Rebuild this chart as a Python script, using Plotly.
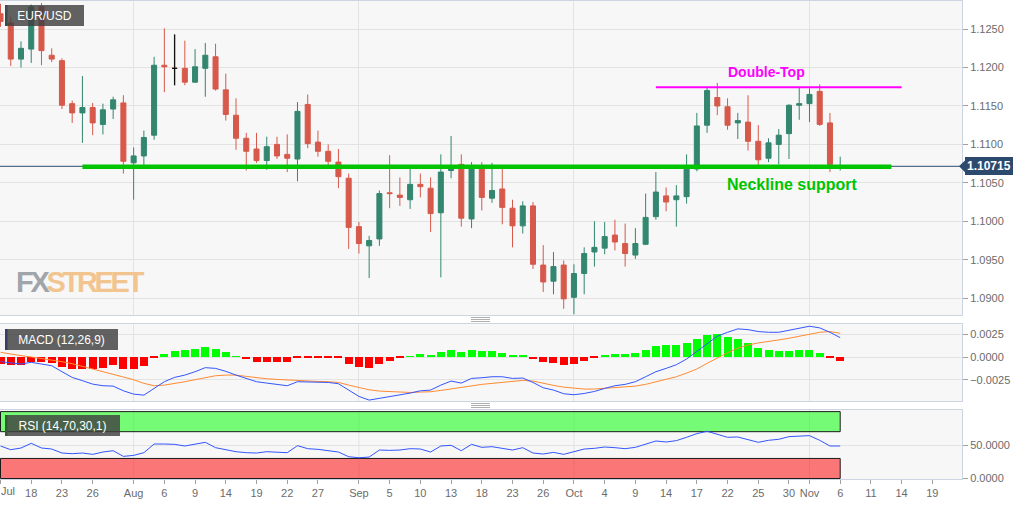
import pandas as pd
import plotly.graph_objects as go
from plotly.subplots import make_subplots

# ---- data (EUR/USD daily, 2019) ----
start_date = "2019-07-15"
last_date = "2019-11-06"
axis_end_date = "2019-11-29"

open_ = [1.1270, 1.1258, 1.1211, 1.1224, 1.1279, 1.1216, 1.1209, 1.1153, 1.1141, 1.1148,
         1.1126, 1.1146, 1.1154, 1.1076, 1.1085, 1.1112, 1.1203, 1.1199, 1.1199, 1.1181,
         1.1199, 1.1214, 1.1171, 1.1138, 1.1108, 1.1094, 1.1079, 1.1100, 1.1087, 1.1081,
         1.1152, 1.1103, 1.1091, 1.1077, 1.1056, 1.0993, 1.0968, 1.0977, 1.1037, 1.1034,
         1.1028, 1.1048, 1.1043, 1.1011, 1.1066, 1.1074, 1.1003, 1.1072, 1.1030, 1.1042,
         1.1017, 1.0994, 1.1020, 1.0943, 1.0922, 1.0943, 1.0901, 1.0932, 1.0960, 1.0965,
         1.0982, 1.0971, 1.0956, 1.0970, 1.1006, 1.1033, 1.1028, 1.1032, 1.1068, 1.1125,
         1.1161, 1.1149, 1.1128, 1.1129, 1.1104, 1.1082, 1.1100, 1.1114, 1.1151, 1.1153,
         1.1169, 1.1128, 1.1069]
high = [1.1283, 1.1266, 1.1234, 1.1282, 1.1284, 1.1225, 1.1212, 1.1157, 1.1189, 1.1154,
        1.1153, 1.1162, 1.1164, 1.1096, 1.1118, 1.1214, 1.1251, 1.1243, 1.1235, 1.1224,
        1.1232, 1.1231, 1.1192, 1.1160, 1.1115, 1.1115, 1.1110, 1.1110, 1.1113, 1.1155,
        1.1165, 1.1118, 1.1100, 1.1094, 1.1062, 1.0999, 1.0981, 1.1040, 1.1086, 1.1057,
        1.1069, 1.1062, 1.1057, 1.1087, 1.1111, 1.1087, 1.1077, 1.1077, 1.1076, 1.1071,
        1.1028, 1.1026, 1.1025, 1.0969, 1.0960, 1.0949, 1.0944, 1.0966, 1.1000, 1.0999,
        1.1002, 1.0997, 1.0991, 1.1036, 1.1064, 1.1044, 1.1047, 1.1087, 1.1141, 1.1175,
        1.1180, 1.1160, 1.1141, 1.1164, 1.1125, 1.1108, 1.1120, 1.1152, 1.1175, 1.1173,
        1.1178, 1.1141, 1.1084]
low = [1.1253, 1.1202, 1.1200, 1.1206, 1.1203, 1.1207, 1.1146, 1.1128, 1.1102, 1.1112,
       1.1113, 1.1133, 1.1062, 1.1028, 1.1073, 1.1106, 1.1168, 1.1177, 1.1177, 1.1180,
       1.1162, 1.1170, 1.1131, 1.1093, 1.1066, 1.1076, 1.1067, 1.1081, 1.1064, 1.1052,
       1.1095, 1.1084, 1.1073, 1.1043, 1.0964, 1.0958, 1.0926, 1.0968, 1.1017, 1.1020,
       1.1016, 1.1031, 1.0986, 1.0927, 1.1056, 1.0993, 1.0991, 1.1014, 1.1024, 1.0996,
       1.0966, 1.0984, 1.0938, 1.0908, 1.0905, 1.0886, 1.0879, 1.0905, 1.0941, 1.0957,
       1.0962, 1.0941, 1.0951, 1.0969, 1.1002, 1.1013, 1.0993, 1.1023, 1.1065, 1.1115,
       1.1138, 1.1119, 1.1107, 1.1092, 1.1073, 1.1077, 1.1074, 1.1081, 1.1132, 1.1129,
       1.1124, 1.1064, 1.1066]
close = [1.1260, 1.1211, 1.1225, 1.1279, 1.1222, 1.1211, 1.1151, 1.1141, 1.1148, 1.1128,
         1.1145, 1.1158, 1.1078, 1.1085, 1.1109, 1.1203, 1.1201, 1.1199, 1.1181, 1.1201,
         1.1216, 1.1172, 1.1139, 1.1108, 1.1091, 1.1079, 1.1097, 1.1085, 1.1082, 1.1143,
         1.1101, 1.1091, 1.1078, 1.1058, 1.0992, 1.0971, 1.0975, 1.1036, 1.1036, 1.1031,
         1.1048, 1.1045, 1.1010, 1.1064, 1.1069, 1.1004, 1.1072, 1.1031, 1.1040, 1.1018,
         1.0994, 1.1020, 1.0944, 1.0921, 1.0941, 1.0899, 1.0932, 1.0958, 1.0966, 1.0980,
         1.0973, 1.0958, 1.0971, 1.1005, 1.1038, 1.1025, 1.1033, 1.1069, 1.1124, 1.1170,
         1.1150, 1.1125, 1.1131, 1.1104, 1.1080, 1.1102, 1.1112, 1.1151, 1.1153, 1.1165,
         1.1126, 1.1074, 1.10715]
black_doji = ["2019-08-07"]

macd = [-0.00051, -0.00066, -0.00076, -0.00058, -0.00073, -0.00095, -0.00160, -0.00222, -0.00258, -0.00295,
        -0.00313, -0.00317, -0.00368, -0.00404, -0.00415, -0.00342, -0.00269, -0.00222, -0.00197, -0.00160,
        -0.00116, -0.00124, -0.00156, -0.00197, -0.00233, -0.00269, -0.00284, -0.00298, -0.00313, -0.00269,
        -0.00269, -0.00273, -0.00277, -0.00291, -0.00360, -0.00429, -0.00469, -0.00451, -0.00429, -0.00411,
        -0.00393, -0.00368, -0.00360, -0.00306, -0.00262, -0.00284, -0.00233, -0.00226, -0.00215, -0.00215,
        -0.00233, -0.00229, -0.00277, -0.00335, -0.00360, -0.00400, -0.00411, -0.00397, -0.00375, -0.00342,
        -0.00313, -0.00298, -0.00269, -0.00215, -0.00160, -0.00124, -0.00084, -0.00022, 0.00058, 0.00142,
        0.00226, 0.00269, 0.00306, 0.00298, 0.00277, 0.00269, 0.00269, 0.00291, 0.00313, 0.00335,
        0.00317, 0.00269, 0.00211]
signal = [0.00051, 0.00029, 0.00015, 0.00000, -0.00015, -0.00033, -0.00051, -0.00073, -0.00102, -0.00138,
          -0.00167, -0.00197, -0.00218, -0.00247, -0.00287, -0.00313, -0.00306, -0.00291, -0.00269, -0.00247,
          -0.00226, -0.00204, -0.00197, -0.00197, -0.00211, -0.00226, -0.00237, -0.00244, -0.00251, -0.00258,
          -0.00262, -0.00266, -0.00269, -0.00277, -0.00306, -0.00335, -0.00357, -0.00371, -0.00378, -0.00386,
          -0.00386, -0.00382, -0.00378, -0.00364, -0.00346, -0.00335, -0.00317, -0.00298, -0.00287, -0.00277,
          -0.00266, -0.00255, -0.00262, -0.00287, -0.00309, -0.00328, -0.00342, -0.00349, -0.00349, -0.00342,
          -0.00335, -0.00331, -0.00317, -0.00298, -0.00269, -0.00247, -0.00215, -0.00175, -0.00131, -0.00069,
          -0.00007, 0.00047, 0.00095, 0.00131, 0.00153, 0.00167, 0.00186, 0.00204, 0.00226, 0.00247,
          0.00269, 0.00277, 0.00258]
hist = [-0.00076, -0.00095, -0.00095, -0.00058, -0.00058, -0.00066, -0.00113, -0.00131, -0.00138, -0.00138,
        -0.00124, -0.00095, -0.00131, -0.00131, -0.00102, -0.00018, 0.00029, 0.00066, 0.00073, 0.00087,
        0.00102, 0.00080, 0.00047, 0.00007, -0.00029, -0.00055, -0.00055, -0.00055, -0.00055, -0.00007,
        -0.00007, -0.00007, -0.00007, -0.00015, -0.00076, -0.00113, -0.00120, -0.00080, -0.00044, -0.00018,
        0.00004, 0.00025, 0.00015, 0.00047, 0.00073, 0.00047, 0.00073, 0.00062, 0.00062, 0.00044,
        0.00018, 0.00022, -0.00022, -0.00062, -0.00066, -0.00095, -0.00080, -0.00044, -0.00015, 0.00015,
        0.00029, 0.00033, 0.00044, 0.00073, 0.00113, 0.00124, 0.00131, 0.00153, 0.00197, 0.00240,
        0.00247, 0.00218, 0.00197, 0.00146, 0.00098, 0.00073, 0.00058, 0.00066, 0.00069, 0.00073,
        0.00044, -0.00011, -0.00051]
rsi = [48.6, 43.1, 45.6, 52.6, 45.6, 44.1, 38.1, 37.1, 38.1, 36.1,
       39.6, 41.6, 33.1, 34.6, 38.6, 51.6, 51.6, 51.1, 48.6, 51.6,
       54.1, 46.1, 42.6, 40.1, 38.6, 38.1, 40.1, 39.1, 38.6, 49.1,
       44.6, 43.6, 42.1, 39.6, 32.6, 31.1, 32.1, 42.6, 42.1, 42.6,
       44.6, 44.1, 39.6, 48.6, 49.6, 41.6, 51.1, 46.6, 47.6, 45.6,
       42.6, 46.1, 38.1, 36.6, 39.1, 36.1, 40.6, 44.1, 45.1, 47.1,
       46.1, 44.6, 46.6, 51.6, 56.1, 54.6, 56.6, 61.6, 67.1, 70.6,
       65.6, 61.6, 62.1, 58.1, 54.1, 57.1, 58.6, 62.6, 63.1, 64.1,
       57.1, 48.6, 48.6]

tick_dates = ["2019-07-15", "2019-07-18", "2019-07-23", "2019-07-26", "2019-08-01", "2019-08-06",
              "2019-08-09", "2019-08-14", "2019-08-19", "2019-08-22", "2019-08-27", "2019-09-02",
              "2019-09-05", "2019-09-10", "2019-09-13", "2019-09-18", "2019-09-23", "2019-09-26",
              "2019-10-01", "2019-10-04", "2019-10-09", "2019-10-14", "2019-10-17", "2019-10-22",
              "2019-10-25", "2019-10-30", "2019-11-01", "2019-11-06", "2019-11-11", "2019-11-14",
              "2019-11-19"]
tick_text = ["Jul", "18", "23", "26", "Aug", "6", "9", "14", "19", "22", "27", "Sep", "5", "10", "13",
             "18", "23", "26", "Oct", "4", "9", "14", "17", "22", "25", "30", "Nov", "6", "11", "14", "19"]
month_starts = ["2019-08-01", "2019-09-02", "2019-10-01", "2019-11-01"]

price_ticks = [1.0900, 1.0950, 1.1000, 1.1050, 1.1100, 1.1150, 1.1200, 1.1250]
macd_ticks = [-0.0025, 0.0, 0.0025]
rsi_ticks = [0, 50]
rsi_upper, rsi_lower = 70, 30

neck_level, neck_from, neck_to = 1.1071, "2019-07-25", "2019-11-13"
top_level, top_from, top_to = 1.11745, "2019-10-11", "2019-11-14"

# ---- styling ----
W, H = 1032, 505
ML, MR, MT, MB = 0, 70, 1, 26
PW, PH = W - ML - MR, H - MT - MB
GREEN = "#33866f"
RED = "#d6594b"
GRID = "#e3e3e3"
BORDER = "#cdd4e1"
TICKC = "#6b6b6b"
FONT = "Liberation Sans, Arial, sans-serif"


def fy(py):
    # pixel row (from top of page) -> paper fraction
    return (H - MB - py) / PH


def fx(px):
    return (px - ML) / PW


cal = pd.bdate_range(start_date, axis_end_date)


def ix(d):
    return cal.get_loc(pd.Timestamp(d))


dates = pd.bdate_range(start_date, last_date)
x = [ix(d) for d in dates]

fig = make_subplots(rows=3, cols=1, shared_xaxes=True)

fig.add_trace(go.Candlestick(
    x=x, open=open_, high=high, low=low, close=close,
    increasing=dict(line=dict(color=GREEN, width=1), fillcolor=GREEN),
    decreasing=dict(line=dict(color=RED, width=1), fillcolor=RED),
    whiskerwidth=0, name="EUR/USD", showlegend=False), row=1, col=1)

bi = [dates.get_loc(pd.Timestamp(d)) for d in black_doji]
fig.add_trace(go.Candlestick(
    x=[x[i] for i in bi], open=[open_[i] for i in bi], high=[high[i] for i in bi],
    low=[low[i] for i in bi], close=[close[i] for i in bi],
    increasing=dict(line=dict(color="#111111", width=1.3), fillcolor="#111111"),
    decreasing=dict(line=dict(color="#111111", width=1.3), fillcolor="#111111"),
    whiskerwidth=0, showlegend=False), row=1, col=1)

fig.add_trace(go.Bar(x=x, y=hist, width=0.78,
                     marker=dict(color=["#00ff00" if v >= 0 else "#ff0000" for v in hist],
                                 line=dict(width=0)),
                     showlegend=False), row=2, col=1)
fig.add_trace(go.Scatter(x=x, y=signal, mode="lines", line=dict(color="#ff8a33", width=1),
                         showlegend=False), row=2, col=1)
fig.add_trace(go.Scatter(x=x, y=macd, mode="lines", line=dict(color="#3355ff", width=1),
                         showlegend=False), row=2, col=1)
fig.add_trace(go.Scatter(x=x, y=rsi, mode="lines", line=dict(color="#3355ff", width=1),
                         showlegend=False), row=3, col=1)

# RSI zones and month gridlines in the RSI pane
fig.add_shape(type="rect", xref="x3", yref="y3", x0=x[0], x1=x[-1], y0=rsi_upper, y1=100,
              fillcolor="rgba(0,255,0,0.52)", line=dict(color="#1b1b1b", width=1), layer="below")
fig.add_shape(type="rect", xref="x3", yref="y3", x0=x[0], x1=x[-1], y0=0, y1=rsi_lower,
              fillcolor="rgba(255,0,0,0.52)", line=dict(color="#1b1b1b", width=1), layer="below")
for d in month_starts:
    fig.add_shape(type="line", xref="x3", yref="y3 domain", x0=ix(d), x1=ix(d), y0=0, y1=1,
                  line=dict(color=GRID, width=1), layer="below")

# last price line and drawn levels
fig.add_shape(type="line", xref="x domain", yref="y", x0=0, x1=1, y0=close[-1], y1=close[-1],
              line=dict(color="#2b4a6e", width=1))
fig.add_shape(type="line", xref="x", yref="y", x0=ix(neck_from), x1=ix(neck_to),
              y0=neck_level, y1=neck_level, line=dict(color="#00c400", width=4.5))
fig.add_shape(type="line", xref="x", yref="y", x0=ix(top_from), x1=ix(top_to),
              y0=top_level, y1=top_level, line=dict(color="#ff00ff", width=2))

# price tag pointer
fig.add_shape(type="path", xref="paper", yref="y",
              path=f"M {fx(959)},{close[-1]} L {fx(966)},{close[-1] + 0.0009} "
                   f"L {fx(966)},{close[-1] - 0.0009} Z",
              fillcolor="#2b4a6e", line=dict(width=0))

# pane labels with coloured markers
labels = [("EUR/USD", 5, 79, GREEN), ("MACD (12,26,9)", 329, 113, "#1f3fff"),
          ("RSI (14,70,30,1)", 415, 115, "#00dd00")]
for txt, top, wid, mcol in labels:
    fig.add_annotation(xref="paper", yref="paper", x=fx(5), y=fy(top), xanchor="left", yanchor="top",
                       text=txt, showarrow=False, width=wid, height=21, borderpad=0, borderwidth=0,
                       bgcolor="rgba(64,64,64,0.82)", font=dict(color="white", size=12, family=FONT))
    fig.add_shape(type="rect", xref="paper", yref="paper", x0=fx(5), x1=fx(7.5),
                  y0=fy(top + 21), y1=fy(top), fillcolor=mcol, line=dict(width=0))

# grips between panes
for base in (317.5, 403.5):
    for k in range(3):
        fig.add_shape(type="line", xref="paper", yref="paper", x0=fx(471), x1=fx(490),
                      y0=fy(base + 2 * k), y1=fy(base + 2 * k), line=dict(color="#9a9a9a", width=0.8))

fig.add_annotation(xref="x", yref="y", x=ix("2019-10-25"), xshift=8, y=1.11944,
                   text="<b>Double-Top</b>", showarrow=False,
                   font=dict(color="#ff00ff", size=14, family=FONT))
fig.add_annotation(xref="x", yref="y", x=ix("2019-10-30"), xshift=3, y=1.10473,
                   text="<b>Neckline support</b>", showarrow=False,
                   font=dict(color="#00c400", size=16, family=FONT))
fig.add_annotation(xref="paper", yref="y", x=fx(965), xanchor="left", y=close[-1],
                   text=f"<b>{close[-1]:.5f}</b>", showarrow=False, bgcolor="#2b4a6e",
                   borderpad=2, borderwidth=0,
                   font=dict(color="white", size=12, family=FONT))
fig.add_annotation(xref="paper", yref="paper", x=fx(14), y=fy(282), xanchor="left", yanchor="middle",
                   text='<b><span style="color:#a0a4ab;letter-spacing:-3.3px">FX</span>'
                        '<span style="color:#f2c590;letter-spacing:-3.3px">STREET</span></b>',
                   showarrow=False,
                   font=dict(size=29, family=FONT))

# axes
xr = [-0.05, PW / 10.24 - 0.05]
fig.update_xaxes(range=xr, rangeslider_visible=False, showline=True, mirror=True,
                 linecolor=BORDER, linewidth=1, zeroline=False)
for r in (1, 2):
    fig.update_xaxes(tickmode="array", tickvals=[ix(d) for d in month_starts], showticklabels=False,
                     ticks="", showgrid=True, gridcolor=GRID, gridwidth=1, row=r, col=1)
# the first label ("Jul") would be clipped at the left edge, so it is written as an annotation
tick_pos = [ix(d) for d in tick_dates]
fig.update_xaxes(tickmode="array", tickvals=tick_pos, ticktext=[""] + tick_text[1:], showgrid=False,
                 ticks="outside", ticklen=4, tickcolor="#a0a0a0",
                 tickfont=dict(size=11, color=TICKC, family=FONT), row=3, col=1)
fig.add_annotation(xref="paper", yref="paper", x=0, xanchor="left", y=fy(484), yanchor="top",
                   text=tick_text[0], showarrow=False, borderpad=0,
                   font=dict(size=11, color=TICKC, family=FONT))

yaxis_common = dict(side="right", showline=True, mirror=True, linecolor=BORDER, linewidth=1,
                    ticks="outside", ticklen=5, tickcolor="#a0a0a0", tickformat=".4f",
                    tickfont=dict(size=11, color=TICKC, family=FONT),
                    showgrid=True, gridcolor=GRID, gridwidth=1, zeroline=False, tickmode="array")
fig.update_yaxes(**yaxis_common)
fig.update_yaxes(range=[1.08780, 1.12866], tickvals=price_ticks, domain=[fy(315), fy(1)], row=1, col=1)
fig.update_yaxes(range=[-0.00479, 0.00356], tickvals=macd_ticks, domain=[fy(401), fy(324.3)], row=2, col=1)
fig.update_yaxes(range=[-0.7, 102.4], tickvals=rsi_ticks, domain=[fy(479), fy(410)], row=3, col=1)

fig.update_layout(
    width=W, height=H, margin=dict(l=ML, r=MR, t=MT, b=MB),
    plot_bgcolor="#f7f7f7", paper_bgcolor="white",
    font=dict(family=FONT, color=TICKC),
    showlegend=False, boxgap=0.3, bargap=0,
)

# the page body has a default 8px margin; drop it so the chart sits at the window origin
fig.write_html("out.html", config={"displayModeBar": False},
               post_script="document.body.style.margin='0';")
